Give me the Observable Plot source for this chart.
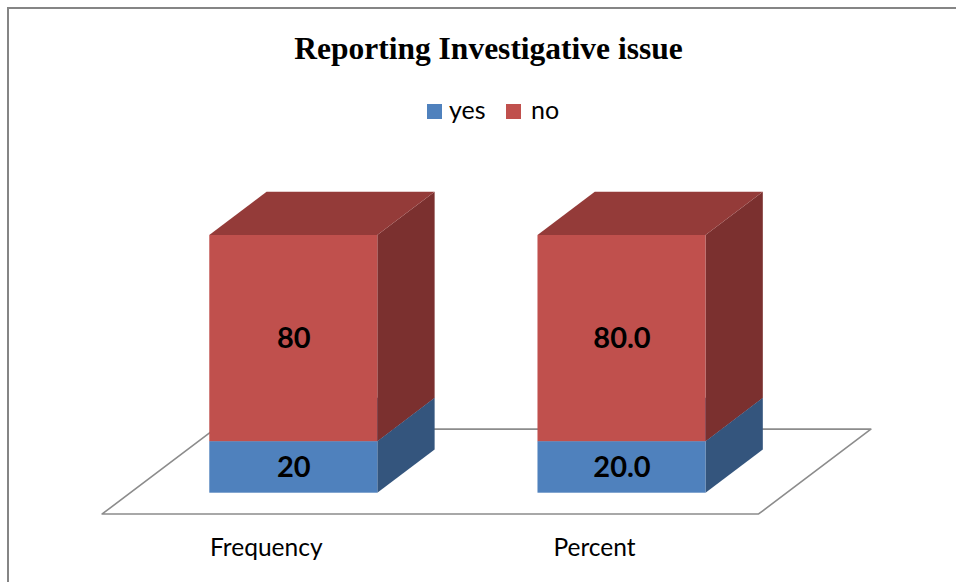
<!DOCTYPE html>
<html>
<head>
<meta charset="utf-8">
<script src="https://cdn.jsdelivr.net/npm/d3@7"></script>
<script src="https://cdn.jsdelivr.net/npm/@observablehq/plot@0.6"></script>
<style>
  html, body { margin: 0; padding: 0; background: #fff; }
  body { width: 956px; height: 582px; overflow: hidden; position: relative; }
  #frame { position: absolute; left: 7px; top: 7px; width: 2000px; height: 2000px;
           border-left: 2px solid #858585; border-top: 2px solid #858585; }
  #title { position: absolute; left: 0; width: 977px; top: 33px; text-align: center;
           font-family: "Liberation Serif", "Times New Roman", serif; font-weight: bold;
           font-size: 31.5px; line-height: 31.5px; color: #000; }
  .sw { position: absolute; top: 104px; width: 15px; height: 15px; }
  .lt { position: absolute; top: 97px; font-family: Lato, sans-serif; font-size: 25px; line-height: 25px; color: #000; }
  #chart { position: absolute; left: 0; top: 140px; }
</style>
</head>
<body>
<div id="frame"></div>
<div id="title"></div>
<div id="legend"></div>
<div id="chart"></div>
<script>
// ---- data ----
const title = "Reporting Investigative issue";
const categories = ["Frequency", "Percent"];
const series = ["yes", "no"];
const yesValues = [20, 20.0];
const noValues = [80, 80.0];
const labelDecimals = [0, 1];

// ---- styles ----
const frontColor = {yes: "#4F81BD", no: "#C0504D"};
const sideColor = {yes: "#34557D", no: "#7B302F"};
const topColor = {yes: "#3F6797", no: "#943B39"};
const HW = 0.256;          // bar half width (category units)
const DX = 0.1746;         // depth unit in x (category units)
const DY = 16.8;           // depth unit in y (value units)
const FLOOR = [-0.48, 1.48];

document.getElementById("title").textContent = title;
const legend = document.getElementById("legend");
const legPos = [{sw: 427, tx: 449}, {sw: 506, tx: 531}];
series.forEach((s, k) => {
  const sw = document.createElement("div");
  sw.className = "sw"; sw.style.left = legPos[k].sw + "px"; sw.style.background = frontColor[s];
  const t = document.createElement("div");
  t.className = "lt"; t.style.left = legPos[k].tx + "px"; t.textContent = s;
  legend.appendChild(sw); legend.appendChild(t);
});

// stacked rows
const valuesBySeries = {yes: yesValues, no: noValues};
const rows = [];
categories.forEach((c, i) => {
  let acc = 0;
  series.forEach(s => {
    const v = valuesBySeries[s][i];
    rows.push({cat: c, i, series: s, value: v, v0: acc, v1: acc + v, dec: labelDecimals[i]});
    acc += v;
  });
});

// side faces (right), as two-point areas
const sides = rows.flatMap(r => [
  {key: r.cat + r.series, series: r.series, x: r.i + HW, y1: r.v0, y2: r.v1},
  {key: r.cat + r.series, series: r.series, x: r.i + HW + DX, y1: r.v0 + DY, y2: r.v1 + DY}
]);
// top faces
const tops = rows.flatMap(r => [
  {key: r.cat + r.series, series: r.series, y: r.v1, x1: r.i - HW, x2: r.i + HW},
  {key: r.cat + r.series, series: r.series, y: r.v1 + DY, x1: r.i - HW + DX, x2: r.i + HW + DX}
]);
// floor
const u0 = -0.5, u1 = categories.length - 0.5;
const floor = [[u0, FLOOR[0]], [u1, FLOOR[0]], [u1, FLOOR[1]], [u0, FLOOR[1]], [u0, FLOOR[0]]]
  .map(([u, d]) => ({x: u + d * DX, y: d * DY}));

const marks = [
  Plot.line(floor, {x: "x", y: "y", stroke: "#8c8c8c", strokeWidth: 1.6, fill: "none"})
];
series.forEach(s => {
  marks.push(Plot.areaY(sides.filter(d => d.series === s), {x: "x", y1: "y1", y2: "y2", z: "key", fill: sideColor[s]}));
  marks.push(Plot.areaX(tops.filter(d => d.series === s), {y: "y", x1: "x1", x2: "x2", z: "key", fill: topColor[s]}));
});
series.forEach(s => {
  marks.push(Plot.rect(rows.filter(d => d.series === s), {
    x1: d => d.i - HW, x2: d => d.i + HW, y1: "v0", y2: "v1", fill: frontColor[s]
  }));
});
marks.push(Plot.text(rows, {
  x: "i", y: d => (d.v0 + d.v1) / 2, text: d => d.value.toFixed(d.dec),
  fontSize: 29, fontWeight: "bold", fill: "#000"
}));
marks.push(Plot.text(categories, {
  x: (d, i) => i + FLOOR[0] * DX, y: () => FLOOR[0] * DY, dy: 34, text: d => d,
  fontSize: 24.5, fill: "#000"
}));

const chart = Plot.plot({
  width: 956, height: 442,
  marginTop: 0, marginRight: 0, marginBottom: 0, marginLeft: 0,
  x: {type: "linear", domain: [0, 1], range: [293.3, 621.5], axis: null},
  y: {type: "linear", domain: [0, 100], range: [352.7, 95], axis: null},
  style: {fontFamily: "Lato, sans-serif", background: "transparent", overflow: "visible"},
  marks
});
document.getElementById("chart").appendChild(chart);
</script>
</body>
</html>
